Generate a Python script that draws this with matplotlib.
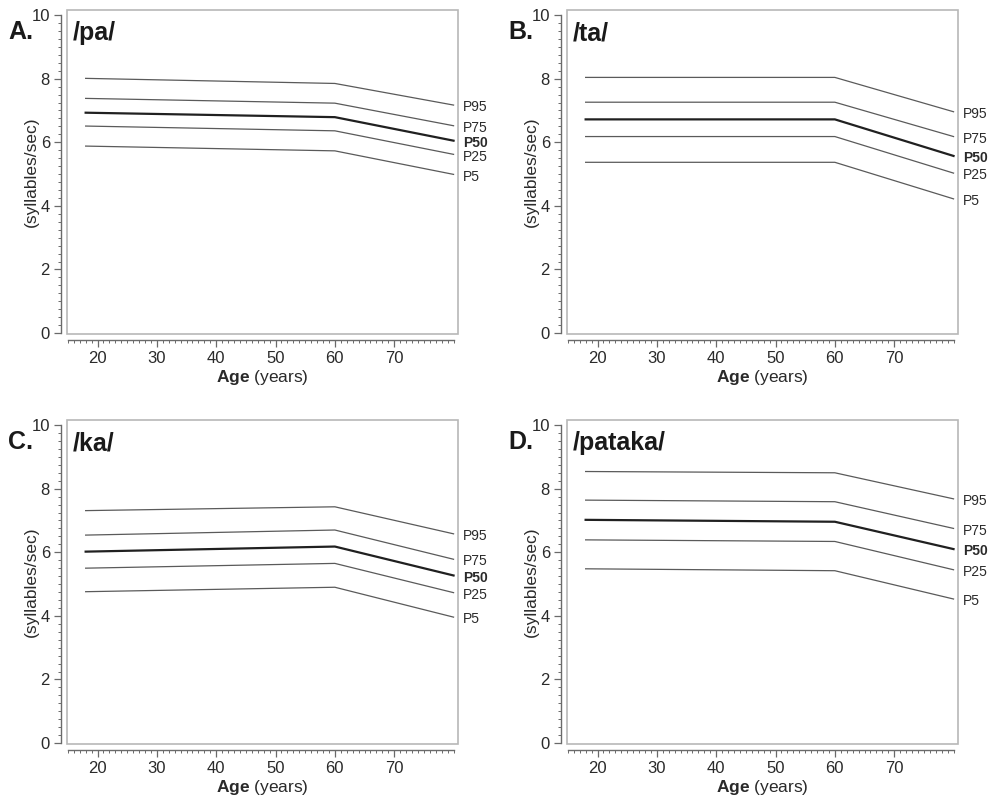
import numpy as np
import matplotlib.pyplot as plt
import matplotlib.transforms as mtransforms
from matplotlib.patches import Rectangle
from matplotlib.ticker import MultipleLocator

plt.rcParams['font.family'] = ['Liberation Sans', 'DejaVu Sans']
plt.rcParams['mathtext.fontset'] = 'custom'
plt.rcParams['mathtext.rm'] = 'Liberation Sans'
plt.rcParams['mathtext.bf'] = 'Liberation Sans:bold'

# knots of the piecewise-linear percentile curves (years)
ages = [18, 60, 80]
pct_labels = ['P95', 'P75', 'P50', 'P25', 'P5']

# syllables/sec at the three knots, one list per percentile
pa_p95 = [8.01, 7.85, 7.17]
pa_p75 = [7.38, 7.23, 6.52]
pa_p50 = [6.93, 6.79, 6.05]
pa_p25 = [6.51, 6.36, 5.62]
pa_p5 = [5.88, 5.73, 4.99]

ta_p95 = [8.04, 8.04, 6.96]
ta_p75 = [7.26, 7.26, 6.18]
ta_p50 = [6.72, 6.72, 5.57]
ta_p25 = [6.18, 6.18, 5.03]
ta_p5 = [5.37, 5.37, 4.22]

ka_p95 = [7.31, 7.43, 6.58]
ka_p75 = [6.54, 6.70, 5.78]
ka_p50 = [6.02, 6.18, 5.27]
ka_p25 = [5.50, 5.65, 4.73]
ka_p5 = [4.76, 4.90, 3.96]

pataka_p95 = [8.54, 8.50, 7.68]
pataka_p75 = [7.64, 7.59, 6.75]
pataka_p50 = [7.02, 6.96, 6.10]
pataka_p25 = [6.39, 6.34, 5.45]
pataka_p5 = [5.48, 5.42, 4.53]

panel_letters = ['A.', 'B.', 'C.', 'D.']
panel_titles = ['/pa/', '/ta/', '/ka/', '/pataka/']
panel_data = [
    [pa_p95, pa_p75, pa_p50, pa_p25, pa_p5],
    [ta_p95, ta_p75, ta_p50, ta_p25, ta_p5],
    [ka_p95, ka_p75, ka_p50, ka_p25, ka_p5],
    [pataka_p95, pataka_p75, pataka_p50, pataka_p25, pataka_p5],
]

# axes rectangles [left, bottom, width, height] in figure fraction
positions = [
    [0.067, 0.5825, 0.393, 0.405],
    [0.5695, 0.5825, 0.393, 0.405],
    [0.067, 0.07, 0.393, 0.405],
    [0.5695, 0.07, 0.393, 0.405],
]

fig = plt.figure(figsize=(9.95, 8), dpi=100)

axis_col = '#6a6a6a'
box_col = '#b8b8b8'
text_col = '#2a2a2a'

for i in range(4):
    ax = fig.add_axes(positions[i])
    series = panel_data[i]
    for lab, vals in zip(pct_labels, series):
        if lab == 'P50':
            ax.plot(ages, vals, color='#202020', lw=1.6, solid_joinstyle='round')
        else:
            ax.plot(ages, vals, color='#5a5a5a', lw=0.9)

    ax.set_xlim(14.8, 80.7)
    ax.set_ylim(-0.03, 10.16)

    # light plot-area frame, axes lines offset outward
    for s in ['top', 'right']:
        ax.spines[s].set_visible(False)
    ax.add_patch(Rectangle((0, 0), 1, 1, transform=ax.transAxes, fill=False,
                           ec=box_col, lw=1.2, clip_on=False, zorder=0))
    for s in ['left', 'bottom']:
        ax.spines[s].set_position(('outward', 4))
        ax.spines[s].set_color(axis_col)
        ax.spines[s].set_linewidth(1.0)
    ax.spines['left'].set_bounds(0, 10)
    ax.spines['bottom'].set_bounds(15, 80)

    ax.set_xticks([20, 30, 40, 50, 60, 70])
    ax.xaxis.set_minor_locator(MultipleLocator(1))
    ax.set_yticks([0, 2, 4, 6, 8, 10])
    ax.yaxis.set_minor_locator(MultipleLocator(0.25))
    ax.tick_params(which='major', length=5, width=0.9, color=axis_col,
                   labelsize=12, labelcolor=text_col, pad=3)
    ax.tick_params(which='minor', length=2.5, width=0.7, color=axis_col)

    ax.set_xlabel(r'$\mathbf{Age}$ (years)', fontsize=12.5, color=text_col,
                  labelpad=2)
    ax.set_ylabel('(syllables/sec)', fontsize=12.5, color=text_col)
    ax.yaxis.set_label_coords(-0.072, 0.5)

    # percentile labels at the right end of each curve
    trans = mtransforms.blended_transform_factory(ax.transAxes, ax.transData)
    for lab, vals in zip(pct_labels, series):
        ax.text(1.014, vals[-1] - 0.07, lab, transform=trans, va='center',
                ha='left', fontsize=10, color=text_col,
                fontweight='bold' if lab == 'P50' else 'normal')

    ax.text(0.016, 0.965, panel_titles[i], transform=ax.transAxes, va='top',
            ha='left', fontsize=18, fontweight='bold', color='#1a1a1a')

    left, bottom, w, h = positions[i]
    fig.text(left - 0.059, bottom + h - 0.012, panel_letters[i], va='top',
             ha='left', fontsize=18, fontweight='bold', color='#1a1a1a')

fig.savefig('out.png', dpi=100)
